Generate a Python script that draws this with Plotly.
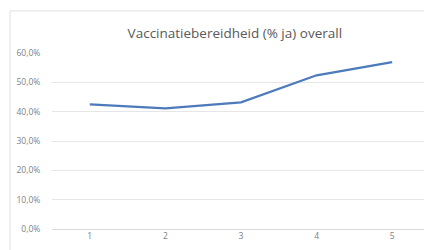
import plotly.graph_objects as go

categories = ["1", "2", "3", "4", "5"]
values = [0.425, 0.411, 0.432, 0.524, 0.569]
y_ticks = [0, 0.1, 0.2, 0.3, 0.4, 0.5, 0.6]
y_tick_labels = ["0,0%", "10,0%", "20,0%", "30,0%", "40,0%", "50,0%", "60,0%"]
title = "Vaccinatiebereidheid (% ja) overall"

fig = go.Figure()
fig.add_trace(go.Scatter(x=categories, y=values, mode="lines",
                         line=dict(color="#4d7aba", width=2.25)))

fig.update_layout(
    width=424, height=242,
    margin=dict(l=44, r=2, t=45, b=21),
    paper_bgcolor="white", plot_bgcolor="white",
    showlegend=False,
    font=dict(family="Open Sans, sans-serif", color="#7f7f7f"),
    title=dict(text=title, x=0.535, xanchor="center", y=0.897, yanchor="middle",
               font=dict(size=13.5, color="#595959")),
    xaxis=dict(type="category", showgrid=False, zeroline=False, showline=False,
               ticks="", tickfont=dict(size=8.5, color="#7f7f7f"),
               range=[-0.5, 4.5]),
    yaxis=dict(range=[0, 0.6], tickvals=y_ticks, ticktext=y_tick_labels,
               showgrid=True, gridcolor="#e6e6e6", gridwidth=1,
               zeroline=True, zerolinecolor="#d9d9d9", zerolinewidth=1,
               ticks="outside", ticklen=9, tickcolor="rgba(0,0,0,0)",
               tickfont=dict(size=8.5, color="#7f7f7f")),
)
fig.add_shape(type="rect", xref="paper", yref="paper",
              x0=-0.111, x1=1.2, y0=-0.3, y1=1.239,
              line=dict(color="#e0e0e0", width=1), layer="below")
fig.write_html("out.html")
